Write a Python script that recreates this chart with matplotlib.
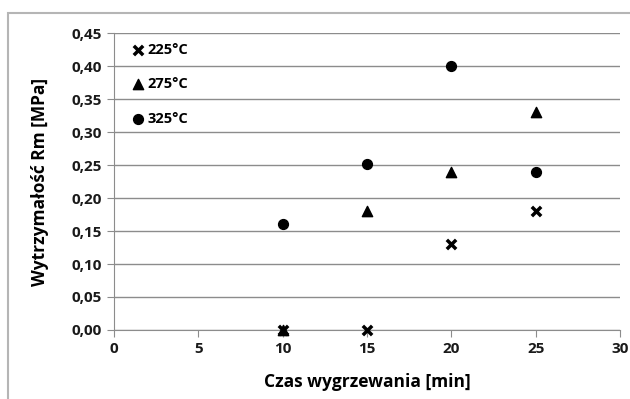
import matplotlib.pyplot as plt
from matplotlib.patches import Rectangle

plt.rcParams['font.family'] = ['Open Sans', 'DejaVu Sans']

czas = [10, 15, 20, 25]
t225 = [0.0, 0.0, 0.13, 0.18]
t275 = [0.0, 0.18, 0.24, 0.33]
t325 = [0.16, 0.252, 0.40, 0.24]

fig = plt.figure(figsize=(6.3, 3.99), dpi=100)
ax = fig.add_axes([0.181, 0.173, 0.803, 0.744])

# ramka wokol calego wykresu
fig.patches.append(Rectangle((8 / 630, -0.1), 1.2, 1 - 13 / 399 + 0.1,
                             transform=fig.transFigure, fill=False,
                             edgecolor='#b5b5b5', linewidth=1.5))

ax.scatter(czas, t225, marker='x', s=45, linewidths=2.5, color='black', label='225°C', zorder=3, clip_on=False)
ax.scatter(czas, t275, marker='^', s=55, color='black', label='275°C', zorder=3, clip_on=False)
ax.scatter(czas, t325, marker='o', s=50, color='black', label='325°C', zorder=3, clip_on=False)

ax.set_xlim(0, 30)
ax.set_ylim(0, 0.45)
ax.set_xticks([0, 5, 10, 15, 20, 25, 30])
ax.set_yticks([i * 0.05 for i in range(10)])
ax.set_yticklabels([('%.2f' % (i * 0.05)).replace('.', ',') for i in range(10)])

ax.grid(axis='y', color='#8c8c8c', linewidth=1)
ax.set_axisbelow(True)
for s in ['top', 'right']:
    ax.spines[s].set_visible(False)
for s in ['left', 'bottom']:
    ax.spines[s].set_color('#8c8c8c')
ax.tick_params(axis='both', color='#8c8c8c', length=5, labelsize=11, pad=4)
for lab in ax.get_xticklabels() + ax.get_yticklabels():
    lab.set_fontweight('bold')
    lab.set_color('#1a1a1a')

ax.set_xlabel('Czas wygrzewania [min]', fontsize=12.5, fontweight='bold', labelpad=12)
ax.set_ylabel('Wytrzymałość Rm [MPa]', fontsize=12.5, fontweight='bold', labelpad=16)

leg = ax.legend(loc='upper left', frameon=False, bbox_to_anchor=(0.005, 1.012),
                handletextpad=0.0, labelspacing=1.4, handlelength=1.2,
                prop={'weight': 'bold', 'size': 10.5})

fig.savefig('out.png', dpi=100)
